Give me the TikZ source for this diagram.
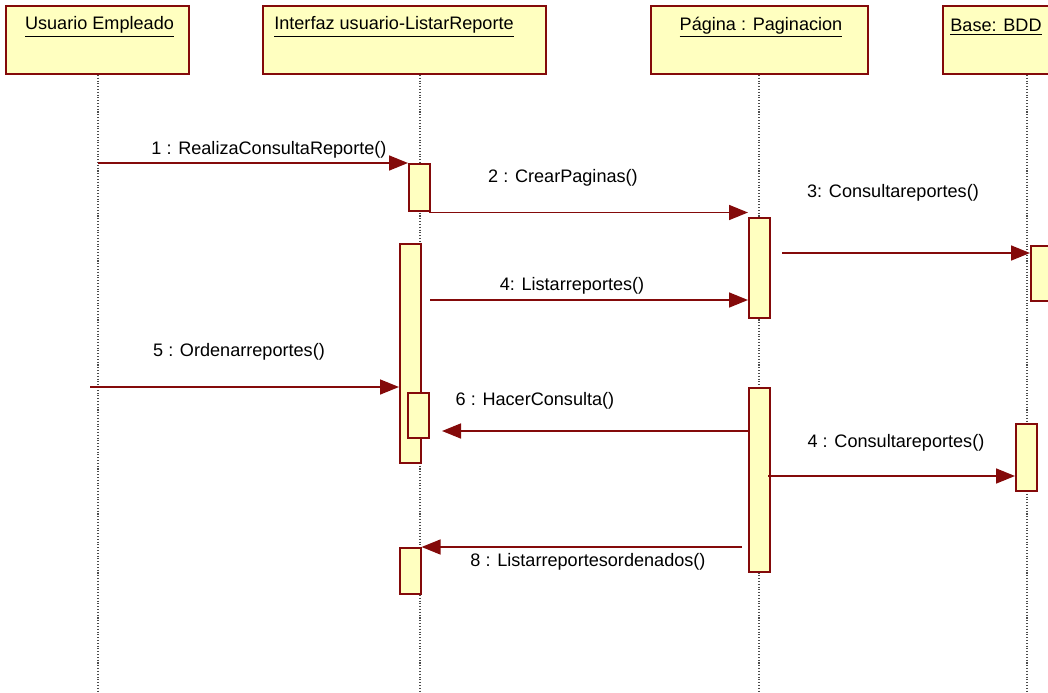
\documentclass[tikz,border=0pt]{standalone}
\usepackage{fontspec}
\setmainfont{Liberation Sans}
\usetikzlibrary{arrows.meta, positioning}
\definecolor{umlred}{RGB}{132,10,10}
\definecolor{umlfill}{RGB}{255,255,192}

\begin{document}
\begin{tikzpicture}[x=0.02cm, y=-0.02cm,
      font=\fontsize{10.3}{12}\selectfont,
      obj/.style={draw=umlred, line width=1.1pt, fill=umlfill, rectangle,
          minimum height=1.36cm, anchor=north west, inner sep=0},
      act/.style={draw=umlred, line width=0.9pt, fill=umlfill, rectangle,
          minimum width=0.42cm, anchor=north west, inner sep=0},
      life/.style={densely dotted, black!70, line width=0.6pt},
      msg/.style={-{Triangle[length=0.38cm, width=0.3cm]}, umlred, line width=0.9pt},
      lbl/.style={inner sep=1pt},
    ]

    \useasboundingbox (0,0) rectangle (1048,693);
    \clip (0,0) rectangle (1048,693);

    % objects
    \node[obj, minimum width=3.66cm] (usr) at (5,5) {};
    \node[obj, minimum width=5.66cm] (gui) at (262,5) {};
    \node[obj, minimum width=4.34cm] (pag) at (650,5) {};
    \node[obj, minimum width=2.4cm] (bdd) at (942,5) {};
    \node (usrlbl) at (99.5,27) {\underline{Usuario Empleado}};
    \node (guilbl) at (394,27) {\underline{Interfaz usuario-ListarReporte}};
    \node (paglbl) at (761,27) {\underline{Página : Paginacion}};
    \node (bddlbl) at (996,27) {\underline{Base: BDD}};

    % lifelines
    \coordinate (usrend) at (98,693);
    \coordinate (guiend) at (420,693);
    \coordinate (pagend) at (759,693);
    \coordinate (bddend) at (1027,693);
    \draw[life] (usr.south -| usrend) -- (usrend);
    \draw[life] (gui.south -| guiend) -- (guiend);
    \draw[life] (pag.south -| pagend) -- (pagend);
    \draw[life] (bdd.south -| bddend) -- (bddend);

    % activations
    \node[act, minimum height=0.94cm] (a1) at (408,163) {};
    \node[act, minimum height=2.0cm] (a2) at (748,217) {};
    \node[act, minimum height=1.1cm] (a3) at (1030,245) {};
    \node[act, minimum height=4.38cm] (a4) at (399,243) {};
    \node[act, minimum height=0.9cm] (a5) at (407,392) {};
    \node[act, minimum height=3.68cm] (a6) at (748,387) {};
    \node[act, minimum height=1.34cm] (a7) at (1015,423) {};
    \node[act, minimum height=0.92cm] (a8) at (399,547) {};

    % messages
    \coordinate (m2) at (429,212.5);
    \coordinate (m3) at (782,253);
    \coordinate (m4) at (430,300);
    \coordinate (m5) at (90,387);
    \coordinate (m6) at (442,431);
    \coordinate (m7) at (768,476);
    \coordinate (m8) at (742,547);

    \draw[msg] (usrend |- a1.north west) -- (a1.north west);
    \draw[msg] (m2) -- (m2 -| a2.west);
    \draw[msg] (m3) -- (m3 -| a3.west);
    \draw[msg] (m4) -- (m4 -| a2.west);
    \draw[msg] (m5) -- (m5 -| a4.west);
    \draw[msg] (m6 -| a6.west) -- (m6);
    \draw[msg] (m7) -- (m7 -| a7.west);
    \draw[msg] (m8) -- (m8 -| a8.east);

    \node[lbl] (l1) at (269,150) {1 : RealizaConsultaReporte()};
    \node[lbl] (l2) at (563,178) {2 : CrearPaginas()};
    \node[lbl] (l3) at (893,193) {3: Consultareportes()};
    \node[lbl] (l4) at (572,286) {4: Listarreportes()};
    \node[lbl] (l5) at (239,352) {5 : Ordenarreportes()};
    \node[lbl] (l6) at (535,401) {6 : HacerConsulta()};
    \node[lbl] (l7) at (896,443) {4 : Consultareportes()};
    \node[lbl] (l8) at (588,562) {8 : Listarreportesordenados()};

  \end{tikzpicture}
\end{document}
